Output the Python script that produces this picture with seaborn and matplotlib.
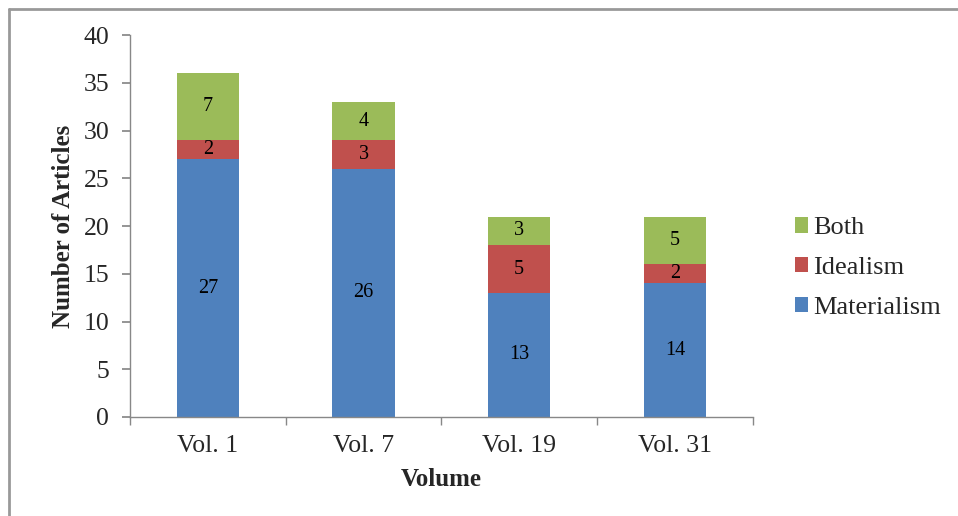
import matplotlib
matplotlib.use("Agg")
import matplotlib.pyplot as plt
from matplotlib.lines import Line2D
from matplotlib.patches import Patch
import seaborn as sns
import pandas as pd
import numpy as np

volumes = ["Vol. 1", "Vol. 7", "Vol. 19", "Vol. 31"]
materialism = [27, 26, 13, 14]
idealism = [2, 3, 5, 2]
both = [7, 4, 3, 5]

series_names = ["Materialism", "Idealism", "Both"]
colors = {"Materialism": "#4F81BD", "Idealism": "#C0504D", "Both": "#9BBB59"}

sns.set_theme(style="white")
plt.rcParams["font.family"] = ["Liberation Serif", "DejaVu Serif"]

df = pd.DataFrame({"Volume": volumes, "Materialism": materialism,
                   "Idealism": idealism, "Both": both})
df["top_M"] = df["Materialism"]
df["top_I"] = df["Materialism"] + df["Idealism"]
df["top_B"] = df["top_I"] + df["Both"]

fig = plt.figure(figsize=(9.58, 5.16), dpi=100)
ax = fig.add_axes([0.1357, 0.1919, 0.650, 0.740])

# stacked bars: draw cumulative totals from tallest to shortest
for col, name in [("top_B", "Both"), ("top_I", "Idealism"), ("top_M", "Materialism")]:
    sns.barplot(data=df, x="Volume", y=col, color=colors[name], width=0.4,
                saturation=1, ax=ax, order=volumes, linewidth=0)

# segment value labels
for i in range(len(volumes)):
    base = 0
    for name in series_names:
        v = df[name].iloc[i]
        ax.text(i, base + v / 2, str(v), ha="center", va="center",
                fontsize=14.5, color="black")
        base += v

ax.set_ylim(0, 40)
ax.set_xlim(-0.5, 3.5)
ax.set_yticks(np.arange(0, 41, 5))
ax.set_xticks([-0.5, 0.5, 1.5, 2.5, 3.5], minor=True)
ax.tick_params(axis="x", which="major", length=0, labelsize=18.5, pad=13)
ax.tick_params(axis="x", which="minor", length=6, color="#888888", direction="out")
ax.tick_params(axis="y", length=6, color="#888888", labelsize=18.5, pad=9, direction="out",
               left=True)
ax.tick_params(axis="x", which="minor", bottom=True)

for s in ["top", "right"]:
    ax.spines[s].set_visible(False)
for s in ["left", "bottom"]:
    ax.spines[s].set_color("#888888")
    ax.spines[s].set_linewidth(1)

ax.set_xlabel("Volume", fontsize=18, fontweight="bold", labelpad=8)
ax.set_ylabel("Number of Articles", fontsize=18, fontweight="bold", labelpad=6)

handles = [Patch(facecolor=colors[n], edgecolor="none") for n in ["Both", "Idealism", "Materialism"]]
leg = fig.legend(handles, ["Both", "Idealism", "Materialism"], loc="center left",
                 bbox_to_anchor=(0.805, 0.48), frameon=False, fontsize=19,
                 handlelength=0.5, handleheight=0.5, handletextpad=0.2,
                 labelspacing=0.68)

# outer frame on top and left edges
fig.add_artist(Line2D([9 / 958, 1.0], [1 - 9 / 516, 1 - 9 / 516],
                      transform=fig.transFigure, color="#999999", linewidth=2))
fig.add_artist(Line2D([9 / 958, 9 / 958], [0.0, 1 - 9 / 516],
                      transform=fig.transFigure, color="#999999", linewidth=2))

fig.savefig("out.png", dpi=100)
